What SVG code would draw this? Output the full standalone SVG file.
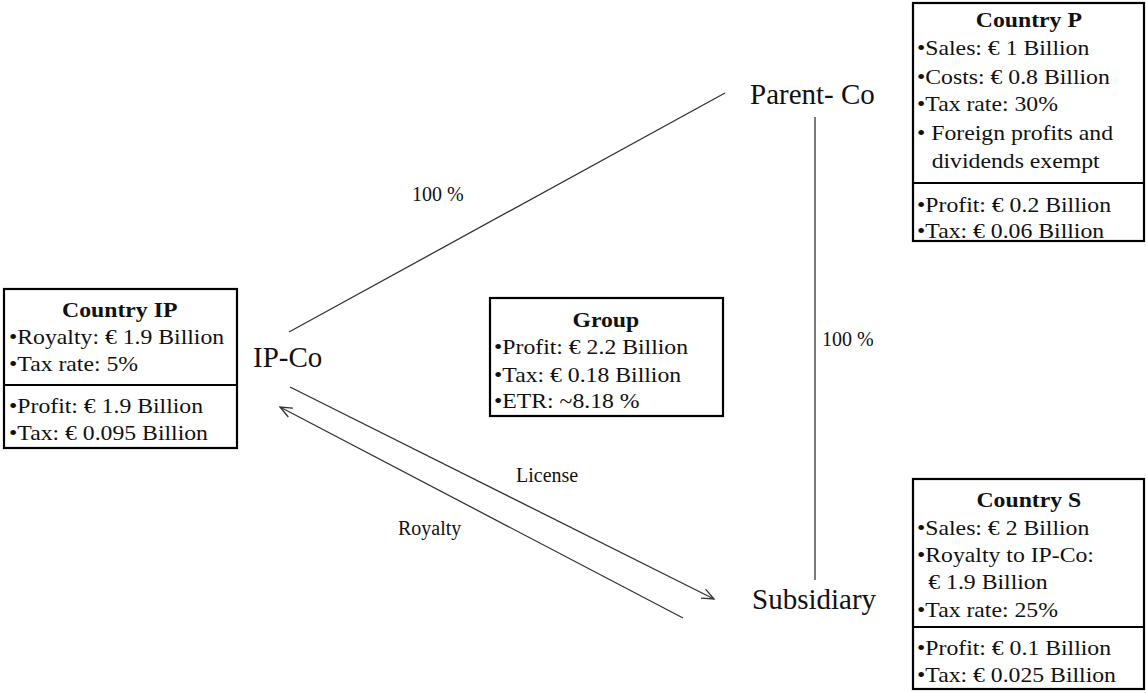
<svg xmlns="http://www.w3.org/2000/svg" width="1147" height="693" viewBox="0 0 1147 693">
<style>
  text { font-family: "Liberation Serif", "Times New Roman", serif; fill: #111; }
  .lbl { font-size: 29px; }
  .small { font-size: 20px; }
  .bx { font-size: 21px; }
  .ttl { font-size: 21px; font-weight: bold; text-anchor: middle; }
  .box { fill: #fff; stroke: #000; stroke-width: 2.2; }
  .div { stroke: #000; stroke-width: 2.2; }
  .conn { stroke: #333; stroke-width: 1.3; fill: none; }
</style>
<defs>
  <marker id="arr" markerUnits="userSpaceOnUse" viewBox="0 0 14 12" refX="13" refY="6" markerWidth="14" markerHeight="12" orient="auto">
    <path d="M1,1 L13,6 L1,11" fill="none" stroke="#333" stroke-width="1.3"/>
  </marker>
</defs>
<rect width="1147" height="693" fill="#fff"/>

<g id="connectors">
  <line class="conn" x1="289" y1="332" x2="725" y2="93"/>
  <line class="conn" x1="815" y1="117" x2="815" y2="580"/>
  <line class="conn" x1="290" y1="387" x2="714" y2="599" marker-end="url(#arr)"/>
  <line class="conn" x1="683" y1="618" x2="280" y2="407" marker-end="url(#arr)"/>
  <text class="small" x="412" y="201">100 %</text>
  <text class="small" x="822" y="346">100 %</text>
  <text class="small" x="516" y="482">License</text>
  <text class="small" x="398" y="535">Royalty</text>
</g>

<g id="parent-co"><text class="lbl" x="750" y="104">Parent- Co</text></g>
<g id="ip-co"><text class="lbl" x="253" y="367">IP-Co</text></g>
<g id="subsidiary"><text class="lbl" x="752" y="609">Subsidiary</text></g>

<g id="country-p">
  <rect class="box" x="913" y="3" width="231" height="238"/>
  <line class="div" x1="913" y1="183" x2="1144" y2="183"/>
  <g transform="translate(917,0) scale(1.13,1)">
    <text class="ttl" x="99" y="27">Country P</text>
    <text class="bx" x="0" y="55">•Sales: € 1 Billion</text>
    <text class="bx" x="0" y="84">•Costs: € 0.8 Billion</text>
    <text class="bx" x="0" y="111">•Tax rate: 30%</text>
    <text class="bx" x="0" y="140">• Foreign profits and</text>
    <text class="bx" x="13" y="168">dividends exempt</text>
    <text class="bx" x="0" y="212">•Profit: € 0.2 Billion</text>
    <text class="bx" x="0" y="238">•Tax: € 0.06 Billion</text>
  </g>
</g>

<g id="country-ip">
  <rect class="box" x="4" y="289" width="233" height="159"/>
  <line class="div" x1="4" y1="385" x2="237" y2="385"/>
  <g transform="translate(9,0) scale(1.13,1)">
    <text class="ttl" x="98" y="317">Country IP</text>
    <text class="bx" x="0" y="344">•Royalty: € 1.9 Billion</text>
    <text class="bx" x="0" y="371">•Tax rate: 5%</text>
    <text class="bx" x="0" y="413">•Profit: € 1.9 Billion</text>
    <text class="bx" x="0" y="440">•Tax: € 0.095 Billion</text>
  </g>
</g>

<g id="group">
  <rect class="box" x="490" y="298" width="233" height="118"/>
  <g transform="translate(494,0) scale(1.13,1)">
    <text class="ttl" x="99" y="327">Group</text>
    <text class="bx" x="0" y="354">•Profit: € 2.2 Billion</text>
    <text class="bx" x="0" y="382">•Tax: € 0.18 Billion</text>
    <text class="bx" x="0" y="408">•ETR: ~8.18 %</text>
  </g>
</g>

<g id="country-s">
  <rect class="box" x="913" y="479" width="231" height="210"/>
  <line class="div" x1="913" y1="627" x2="1144" y2="627"/>
  <g transform="translate(917,0) scale(1.13,1)">
    <text class="ttl" x="99" y="507">Country S</text>
    <text class="bx" x="0" y="535">•Sales: € 2 Billion</text>
    <text class="bx" x="0" y="562">•Royalty to IP-Co:</text>
    <text class="bx" x="10" y="589">€ 1.9 Billion</text>
    <text class="bx" x="0" y="617">•Tax rate: 25%</text>
    <text class="bx" x="0" y="655">•Profit: € 0.1 Billion</text>
    <text class="bx" x="0" y="682">•Tax: € 0.025 Billion</text>
  </g>
</g>
</svg>
